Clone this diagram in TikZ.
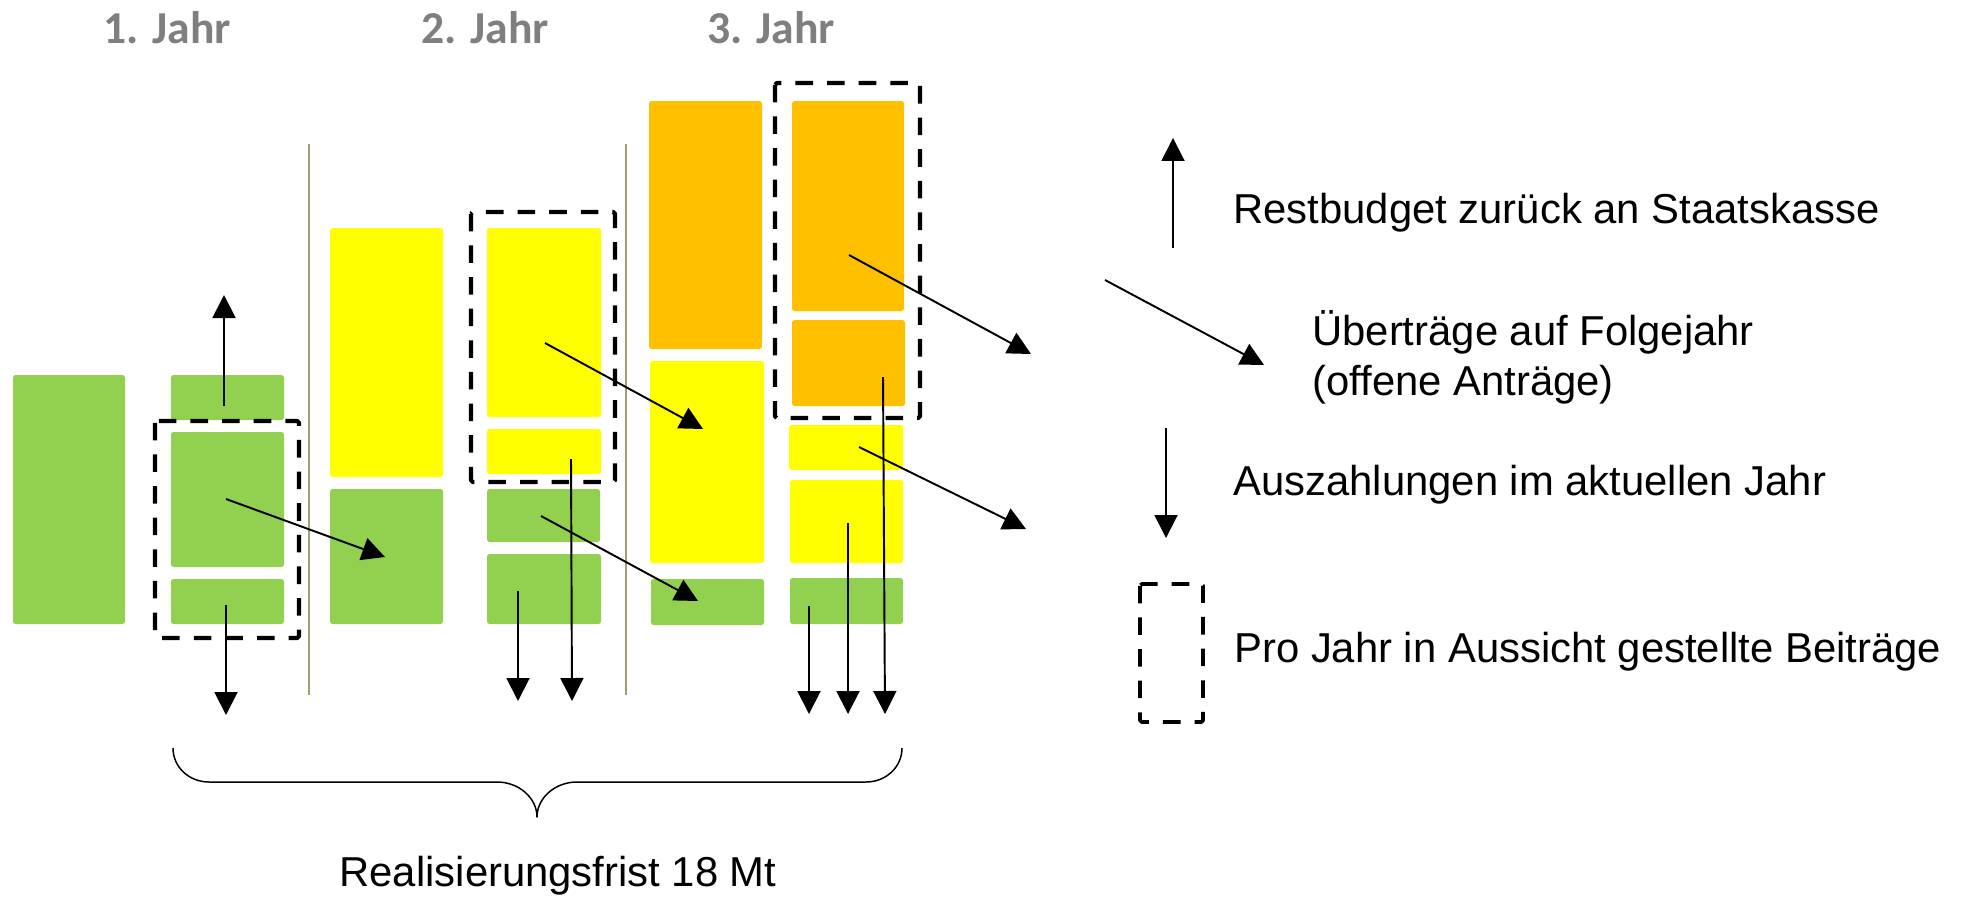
\documentclass[tikz,border=0pt]{standalone}
\usepackage{fontspec}
\setmainfont{Liberation Sans}
\newfontfamily\jahrfont{Carlito}
\usetikzlibrary{arrows.meta}
\definecolor{gruen}{HTML}{92D050}
\definecolor{gelb}{HTML}{FFFF00}
\definecolor{dgelb}{HTML}{FFC000}
\definecolor{grau}{HTML}{7F7F7F}
\definecolor{trenn}{HTML}{A39D72}
\begin{document}
\begin{tikzpicture}[x=0.02cm,y=-0.02cm,line join=round,>={Triangle[length=0.46cm,width=0.46cm]},
    balken/.style={rounded corners=1.5pt},
    pfeil/.style={->,line width=1.1pt},
    rahmen/.style={line width=2.4pt,dash pattern=on 10pt off 8pt,rounded corners=1pt},
    txt/.style={inner sep=0pt,anchor=base west,font=\fontsize{23.8}{28}\selectfont},
    jahr/.style={inner sep=0pt,anchor=base,text=grau,font=\jahrfont\bfseries\fontsize{26}{30}\selectfont}]
    \useasboundingbox (0,0) rectangle (1966,899);
    % Jahre
    \node[jahr] (j1) at (167,43) {1. Jahr};
    \node[jahr] (j2) at (485,43) {2. Jahr};
    \node[jahr] (j3) at (771,43) {3. Jahr};
    \draw[trenn,line width=1.1pt]
    (309,144)--(309,695)
    (626,144)--(626,695)
    ;
    % Balken
    \fill[gruen,balken]
    (13,375) rectangle (125,624)
    (171,375) rectangle (284,420)
    (171,432) rectangle (284,567)
    (171,579) rectangle (284,624)
    (330,489) rectangle (443,624)
    (487,489) rectangle (600,542)
    (487,554) rectangle (601,624)
    (651,579) rectangle (764,625)
    (790,578) rectangle (903,624)
    ;
    \fill[gelb,balken]
    (330,228) rectangle (443,477)
    (487,228) rectangle (601,417)
    (487,429) rectangle (601,474)
    (650,361) rectangle (764,563)
    (789,425) rectangle (903,470)
    (790,480) rectangle (903,563)
    ;
    \fill[dgelb,balken]
    (649,101) rectangle (762,349)
    (792,101) rectangle (904,311)
    (792,320) rectangle (905,406)
    ;
    % in Aussicht gestellt
    \draw[rahmen]
    (155,421) rectangle (299,638)
    (471,212) rectangle (615,482)
    (775,83) rectangle (920,418)
    ;
    % Pfeile
    \coordinate (up1s) at (224,406);  \coordinate (up1e) at (224,295);
    \coordinate (ab1s) at (226,605);  \coordinate (ab1e) at (226,715);
    \coordinate (ue1s) at (226,499);  \coordinate (ue1e) at (385,557);
    \coordinate (ue2s) at (545,343);  \coordinate (ue2e) at (703,429);
    \coordinate (ue3s) at (541,516);  \coordinate (ue3e) at (698,601);
    \coordinate (ab2s) at (518,591);  \coordinate (ab2e) at (518,701);
    \coordinate (ab3s) at (571,459);  \coordinate (ab3e) at (572,701);
    \coordinate (ue4s) at (849,255);  \coordinate (ue4e) at (1031,354);
    \coordinate (ue5s) at (859,447);  \coordinate (ue5e) at (1026,529);
    \coordinate (ab4s) at (809,606);  \coordinate (ab4e) at (809,714);
    \coordinate (ab5s) at (848,523);  \coordinate (ab5e) at (848,714);
    \coordinate (ab6s) at (883,377);  \coordinate (ab6e) at (885,714);
    \draw[pfeil] (up1s)--(up1e);
    \draw[pfeil] (ab1s)--(ab1e);
    \draw[pfeil] (ue1s)--(ue1e);
    \draw[pfeil] (ue2s)--(ue2e);
    \draw[pfeil] (ue3s)--(ue3e);
    \draw[pfeil] (ab2s)--(ab2e);
    \draw[pfeil] (ab3s)--(ab3e);
    \draw[pfeil] (ue4s)--(ue4e);
    \draw[pfeil] (ue5s)--(ue5e);
    \draw[pfeil] (ab4s)--(ab4e);
    \draw[pfeil] (ab5s)--(ab5e);
    \draw[pfeil] (ab6s)--(ab6e);
    % Klammer
    \draw[line width=0.85pt]
    (173,748) .. controls (173,767) and (189,782) .. (209,782) -- (497,782)
    .. controls (519,782) and (537,798) .. (537,817)
    .. controls (537,798) and (555,782) .. (577,782) -- (866,782)
    .. controls (886,782) and (902,767) .. (902,748);
    \node[txt,anchor=base] (frist) at (558,886) {Realisierungsfrist 18 Mt};
    % Legende
    \coordinate (lg1s) at (1173,248);  \coordinate (lg1e) at (1173,138);
    \coordinate (lg2s) at (1105,280);  \coordinate (lg2e) at (1264,365);
    \coordinate (lg3s) at (1166,428);  \coordinate (lg3e) at (1166,538);
    \draw[pfeil] (lg1s)--(lg1e);
    \draw[pfeil] (lg2s)--(lg2e);
    \draw[pfeil] (lg3s)--(lg3e);
    \draw[rahmen,line width=2.2pt] (1140,584) rectangle (1203,722);
    \node[txt] (rest) at (1233,223) {Restbudget zurück an Staatskasse};
    \node[txt] (ueb1) at (1312,345) {Überträge auf Folgejahr};
    \node[txt] (ueb2) at (1312,395) {(offene Anträge)};
    \node[txt] (ausz) at (1233,495) {Auszahlungen im aktuellen Jahr};
    \node[txt] (pro) at (1234,662) {Pro Jahr in Aussicht gestellte Beiträge};
\end{tikzpicture}
\end{document}
